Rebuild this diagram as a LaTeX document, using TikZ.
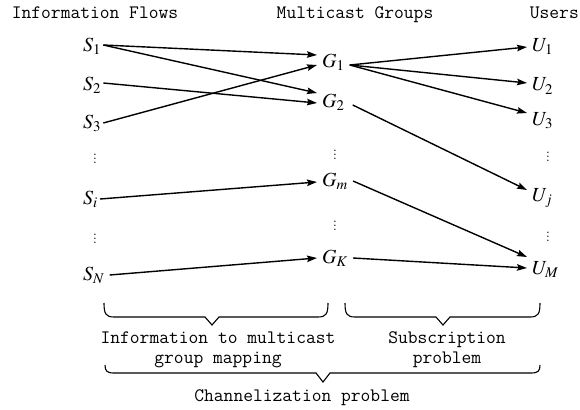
\documentclass[tikz,border=0pt]{standalone}
\usepackage{mathptmx}
\usetikzlibrary{arrows.meta}
\begin{document}
\begin{tikzpicture}[x=1pt,y=-1pt,
  lab/.style={anchor=west,inner ysep=0pt,font=\fontsize{20}{22}\selectfont},
  snode/.style={lab,inner xsep=2pt},
  gnode/.style={lab,inner xsep=5pt},
  unode/.style={lab,inner xsep=5pt},
  vd/.style={font=\fontsize{17}{18}\selectfont,inner sep=0pt},
  hdr/.style={font=\ttfamily\fontsize{19}{20}\selectfont,anchor=base,inner sep=0pt},
  txt/.style={font=\ttfamily\fontsize{19}{20}\selectfont,align=center,inner sep=0pt},
  arr/.style={line width=1.4pt,-{Stealth[length=10pt,width=6.5pt,inset=1.5pt]}},
  brc/.style={line width=1.1pt,line join=miter}]
\useasboundingbox (0,0) rectangle (580,409);
% headers
\node[hdr] (h1) at (95,18.5) {Information Flows};
\node[hdr] (h2) at (355,18.5) {Multicast Groups};
\node[hdr,anchor=base east] (h3) at (579,18.5) {Users};
% sources
\node[snode] (s1) at (81,46) {$S_1$};
\node[snode] (s2) at (81,85) {$S_2$};
\node[snode] (s3) at (81,123) {$S_3$};
\node[vd] (sd1) at (95,156) {$\vdots$};
\node[snode] (si) at (81,199) {$S_i$};
\node[vd] (sd2) at (95,236) {$\vdots$};
\node[snode] (sn) at (81,275) {$S_N$};
% groups
\node[gnode] (g1) at (317,62) {$G_1$};
\node[gnode] (g2) at (317,102) {$G_2$};
\node[vd] (gd1) at (335,152) {$\vdots$};
\node[gnode] (gm) at (317,181) {$G_m$};
\node[vd] (gd2) at (335,223) {$\vdots$};
\node[gnode] (gk) at (317,258) {$G_K$};
% users
\node[unode] (u1) at (527,47) {$U_1$};
\node[unode] (u2) at (527,86) {$U_2$};
\node[unode] (u3) at (527,121) {$U_3$};
\node[vd] (ud1) at (548,154) {$\vdots$};
\node[unode] (uj) at (527,198) {$U_j$};
\node[vd] (ud2) at (548,234) {$\vdots$};
\node[unode] (um) at (527,270) {$U_M$};
% connectors
\draw[arr] ([yshift=1pt]s1.east) -- ([yshift=7pt]g1.west);
\draw[arr] ([yshift=1pt]s1.east) -- ([yshift=9pt]g2.west);
\draw[arr] ([yshift=2pt]s2.east) -- ([yshift=-1pt]g2.west);
\draw[arr] (s3.east) -- ([yshift=-3pt]g1.west);
\draw[arr] ([yshift=-3pt]g1.east) -- (u1.west);
\draw[arr] ([yshift=-3pt]g1.east) -- ([yshift=3pt]u2.west);
\draw[arr] ([yshift=-3pt]g1.east) -- ([yshift=8pt]u3.west);
\draw[arr] ([yshift=-3pt,xshift=3pt]g2.east) -- ([yshift=8pt]uj.west);
\draw[arr] (si.east) -- ([yshift=-1pt]gm.west);
\draw[arr] (gm.east) -- ([yshift=13pt]um.west);
\draw[arr] ([xshift=3pt]sn.east) -- (gk.west);
\draw[arr] (gk.east) -- ([yshift=2pt]um.west);
% braces
\draw[brc] (104,303) .. controls (104,314) and (106,317) .. (114,317) -- (205,317) -- (212,325) -- (219,317) -- (318,317) .. controls (326,317) and (328,314) .. (328,303);
\draw[brc] (345,303) .. controls (345,314) and (347,317) .. (355,317) -- (436,317) -- (443,325) -- (450,317) -- (530,317) .. controls (538,317) and (540,314) .. (540,303);
\draw[brc] (105,365) .. controls (105,371) and (107,373) .. (114,373) -- (316,373) -- (323,382) -- (330,373) -- (531,373) .. controls (538,373) and (540,371) .. (540,365);
% bottom texts
\node[txt] (t1) at (218,350) {Information to multicast\\group mapping};
\node[txt] (t2) at (447,350) {Subscription\\problem};
\node[txt] (t3) at (302,398) {Channelization problem};
\end{tikzpicture}
\end{document}
